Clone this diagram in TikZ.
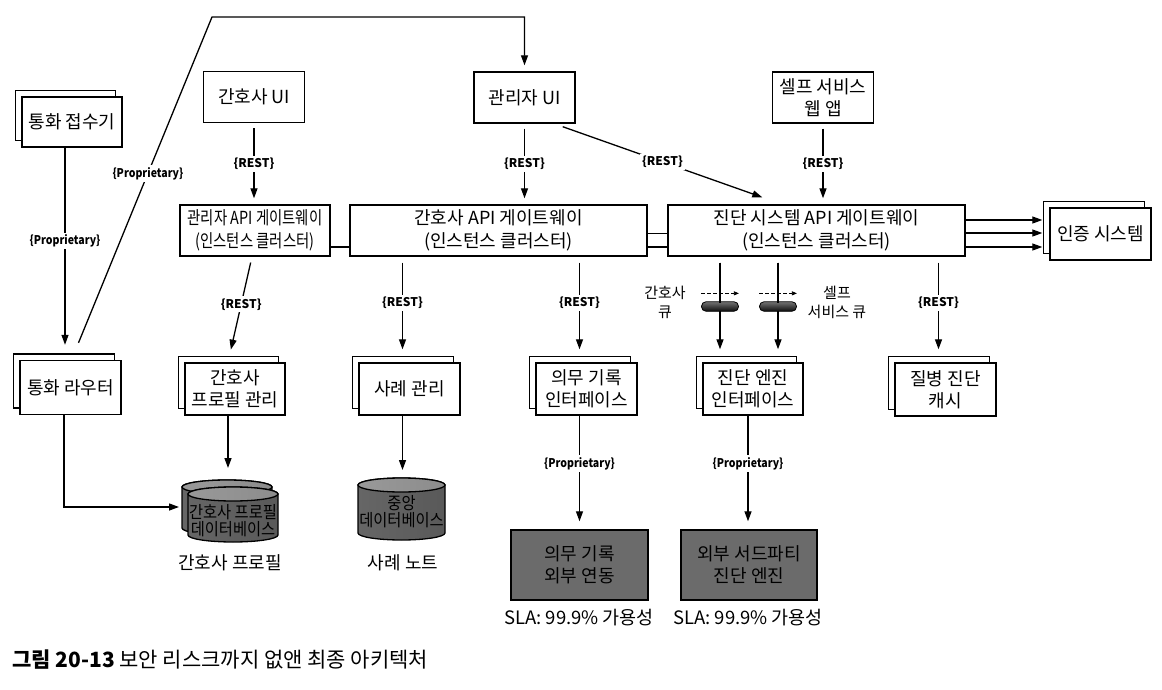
\documentclass[tikz,border=0pt]{standalone}
\usepackage{graphicx}
\usepackage{fontspec}
\setmainfont{Noto Sans CJK KR}
\usetikzlibrary{arrows.meta,shadows,calc}
\newcommand\dbcyl[4]{% cx, ytop, ybot, r
  \path[cylbody] (#1-#4,#2) -- (#1-#4,#3) arc[start angle=180,end angle=360,x radius=#4pt,y radius=7pt] -- (#1+#4,#2) arc[start angle=0,end angle=180,x radius=#4pt,y radius=7pt] -- cycle;
  \path[cyltop] (#1,#2) ellipse[x radius=#4pt,y radius=7pt];
}
\newcommand\nx[2]{\scalebox{#1}[1]{#2}}
\newcommand\prop{\scalebox{0.88}[1]{\{Proprietary\}}}
\begin{document}
\begin{tikzpicture}[x=1pt,y=-1pt,
  every node/.style={font=\fontsize{18}{22}\selectfont, align=center, inner sep=0pt},
  ln/.style={line width=1.3pt},
  arr/.style={ln, -{Triangle[length=10pt,width=7pt]}, shorten >=6pt},
  box/.style={draw, line width=1.4pt, fill=white, minimum width=101pt, minimum height=51pt},
  stackbox/.style={box, copy shadow={shadow xshift=-6.5pt, shadow yshift=6.5pt, draw=black, fill=white, line width=1.4pt}},
  gw/.style={box, minimum width=297pt, font=\fontsize{18}{23}\selectfont},
  ext/.style={draw, line width=1.4pt, fill=black!58, minimum width=137pt, minimum height=70pt},
  lbl/.style={fill=white, font=\bfseries\fontsize{12}{13}\selectfont, inner sep=2pt},
  qlbl/.style={font=\fontsize{15}{19}\selectfont},
  pill/.style={draw, line width=0.8pt, rounded corners=4.5pt, minimum width=37pt, minimum height=9.5pt, top color=black!55, bottom color=black!95},
  qarr/.style={line width=0.8pt, dash pattern=on 4pt off 2pt, -{Triangle[length=5pt,width=4pt]}},
  cylbody/.style={draw, line width=1.3pt, left color=black!60, middle color=black!10, right color=black!65},
  cyltop/.style={draw, line width=1.3pt, left color=black!40, middle color=black!5, right color=black!45},
  dbtxt/.style={font=\fontsize{17}{18}\selectfont}
]
\useasboundingbox (0,0) rectangle (1162,690);
\fill[white] (0,0) rectangle (1162,690);

% ---- nodes ----
\node[stackbox, minimum width=100pt, minimum height=50pt] (call) at (72,122) {통화 접수기};
\node[stackbox, minimum height=54pt] (router) at (70.5,387.5) {통화 라우터};
\node[box] (nurseui) at (254,97) {간호사 UI};
\node[box] (adminui) at (524.5,97.5) {관리자 UI};
\node[box] (selfui) at (823,97.5) {셀프 서비스\\웹 앱};
\node[box, minimum width=150pt, font=\fontsize{18}{23}\selectfont] (admingw) at (255,230.5) {\nx{0.8}{관리자 API 게이트웨이}\\\nx{0.8}{(인스턴스 클러스터)}};
\node[gw] (nursegw) at (498.5,230.5) {간호사 API 게이트웨이\\(인스턴스 클러스터)};
\node[gw] (diaggw) at (816.5,230.5) {진단 시스템 API 게이트웨이\\(인스턴스 클러스터)};
\node[stackbox, minimum height=52pt] (auth) at (1100.5,234) {인증 시스템};
\node[stackbox, minimum width=100pt, minimum height=52pt] (profmgr) at (235,389) {간호사\\프로필 관리};
\node[stackbox, minimum height=52pt] (casemgr) at (409.5,389) {사례 관리};
\node[stackbox, minimum height=52pt] (dutyif) at (586.5,389) {의무 기록\\인터페이스};
\node[stackbox, minimum width=100pt, minimum height=52pt] (engif) at (753,389) {진단 엔진\\인터페이스};
\node[stackbox, minimum height=53pt] (cache) at (945.5,389.5) {질병 진단\\캐시};
\node[ext] (dutyext) at (579.5,565) {의무 기록\\외부 연동};
\node[ext, minimum width=136pt] (engext) at (749,565) {외부 서드파티\\진단 엔진};

% ---- databases ----
\dbcyl{227}{487}{528}{45}
\dbcyl{233}{494}{535}{45}
\node[dbtxt] (pdb1) at (233,512) {\nx{0.9}{간호사 프로필}};
\node[dbtxt] (pdb2) at (233,529) {\nx{0.9}{데이터베이스}};
\dbcyl{401.5}{485}{533}{43.5}
\node[dbtxt] (cdb1) at (401.5,503) {\nx{0.9}{중앙}};
\node[dbtxt] (cdb2) at (401.5,520) {\nx{0.9}{데이터베이스}};
\coordinate (pdbtop) at (227,480);
\coordinate (pdbL) at (182,507);
\coordinate (cdbtop) at (401.5,478);
\node (pdbl) at (230,563) {간호사 프로필};
\node (cdbl) at (403,563) {사례 노트};
\node[font=\fontsize{18.5}{20}\selectfont] (sla1) at (579,618) {SLA: 99.9\% 가용성};
\node[font=\fontsize{18.5}{20}\selectfont] (sla2) at (748,618) {SLA: 99.9\% 가용성};

% ---- helper coordinates ----
\coordinate (callB) at ([xshift=-7pt]call.south);
\coordinate (routerB) at ([xshift=-6.5pt]router.south);
\coordinate (profT) at ([xshift=-7pt]profmgr.north);
\coordinate (profB) at ([xshift=-7pt]profmgr.south);
\coordinate (caseT) at ([xshift=-7pt]casemgr.north);
\coordinate (caseB) at ([xshift=-7pt]casemgr.south);
\coordinate (dutyT) at ([xshift=-7pt]dutyif.north);
\coordinate (dutyB) at ([xshift=-7pt]dutyif.south);
\coordinate (e1) at ([xshift=-33pt]engif.north);
\coordinate (e2) at ([xshift=25pt]engif.north);
\coordinate (engB) at ([xshift=-5pt]engif.south);
\coordinate (cacheT) at ([xshift=-7pt]cache.north);

% ---- top connectors ----
\draw[arr, shorten <=5pt] (nurseui.south) -- node[lbl]{\{REST\}} (nurseui.south |- admingw.north);
\draw[arr, shorten <=5pt] (adminui.south) -- node[lbl]{\{REST\}} (adminui.south |- nursegw.north);
\draw[arr, shorten >=0pt] ($(adminui.south east)+(-13,3)$) -- node[lbl]{\{REST\}} ($(diaggw.north west)+(95,-7)$);
\draw[arr, shorten <=5pt] (selfui.south) -- node[lbl]{\{REST\}} (selfui.south |- diaggw.north);
\draw[arr] ($(router.north)+(8,-17)$) -- node[lbl,pos=0.52]{\prop} (212,17) -| (adminui.north);
\draw[arr, shorten >=15pt] (callB) -- node[lbl,pos=0.44]{\prop} (callB |- router.north);

% ---- gateway links ----
\draw[ln] ([yshift=-16.5pt]admingw.east) -- ([yshift=-16.5pt]nursegw.west);
\draw[ln] ([yshift=-3pt]nursegw.east) -- ([yshift=-3pt]diaggw.west);
\draw[ln] ([yshift=-16.5pt]nursegw.east) -- ([yshift=-16.5pt]diaggw.west);
\foreach \d/\e in {10.5/14, -2.5/1, -16.5/-13}
  \draw[arr, shorten >=7pt] ([yshift=\d pt]diaggw.east) -- ([yshift=\e pt]auth.west);

% ---- lower connectors ----
\draw[arr, shorten <=6pt, shorten >=13pt] ([xshift=-3pt]admingw.south) -- node[lbl,pos=0.45]{\{REST\}} (profT);
\draw[arr, shorten <=6pt, shorten >=13pt] (caseT |- nursegw.south) -- node[lbl,pos=0.44]{\{REST\}} (caseT);
\draw[arr, shorten <=6pt, shorten >=13pt] (dutyT |- nursegw.south) -- node[lbl,pos=0.44]{\{REST\}} (dutyT);
\draw[arr, shorten <=6pt, shorten >=13pt] (cacheT |- diaggw.south) -- node[lbl,pos=0.44]{\{REST\}} (cacheT);
\draw[arr, shorten <=6pt, shorten >=13pt] (e1 |- diaggw.south) -- (e1);
\draw[arr, shorten <=6pt, shorten >=13pt] (e2 |- diaggw.south) -- (e2);
\node[pill] (q1) at (720,306.5) {};
\node[pill] (q2) at (778,306.5) {};
\draw[qarr] ([yshift=8pt]q1.north west) -- ([yshift=8pt]q1.north east);
\draw[qarr] ([yshift=8pt]q2.north west) -- ([yshift=8pt]q2.north east);
\draw[ln] (e1 |- diaggw.south) ++(0,6) -- ([yshift=-2pt]q1.north);
\draw[ln] (e2 |- diaggw.south) ++(0,6) -- ([yshift=-2pt]q2.north);
\node[qlbl] (q1l) at (665,302) {간호사\\큐};
\node[qlbl] (q2l) at (837,302) {셀프\\서비스 큐};

\draw[arr, shorten >=8pt] (dutyB) -- node[lbl,pos=0.42]{\prop} (dutyB |- dutyext.north);
\draw[arr, shorten >=8pt] (engB) -- node[lbl,pos=0.42]{\prop} (engB |- engext.north);
\draw[arr, shorten >=12pt] (profB) -- (profB |- pdbtop);
\draw[arr, shorten >=8pt] (caseB) -- (caseB |- cdbtop);
\draw[arr, shorten >=3pt] (routerB) |- (pdbL);

% ---- caption ----
\node[anchor=west, font=\fontsize{21}{24}\selectfont] (cap) at (12,660) {\textbf{그림 20-13} 보안 리스크까지 없앤 최종 아키텍처};
\end{tikzpicture}
\end{document}
